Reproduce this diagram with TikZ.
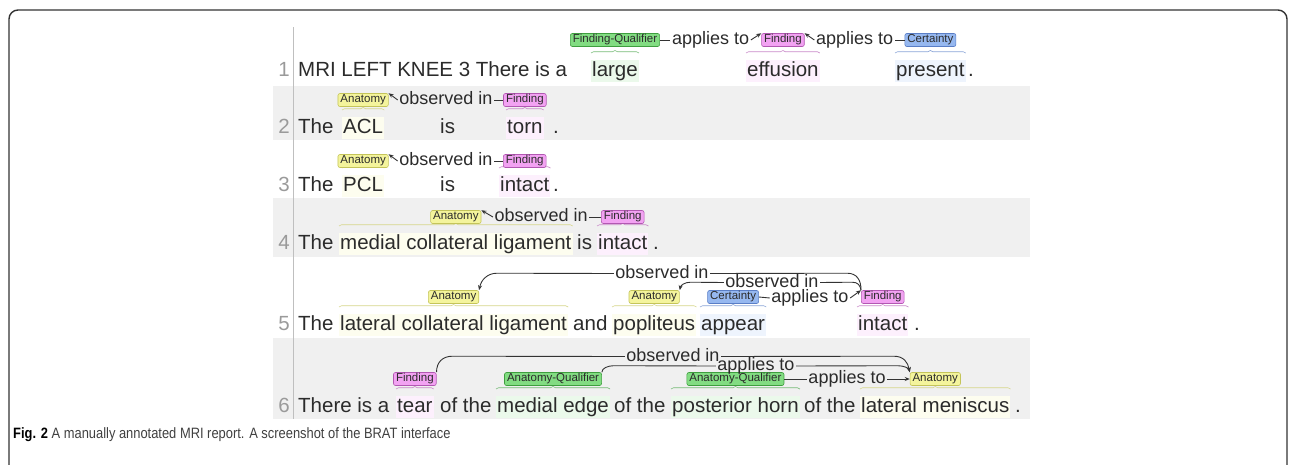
\documentclass[tikz,border=0pt]{standalone}
\usepackage{fontspec}
\setmainfont{Liberation Sans}
\usepackage{xcolor}
\usetikzlibrary{arrows.meta,calc,decorations.pathreplacing}
\definecolor{anaF}{HTML}{F4F49C}\definecolor{anaD}{HTML}{C4C45A}
\definecolor{fndF}{HTML}{F2A2F2}\definecolor{fndD}{HTML}{B258B2}
\definecolor{quaF}{HTML}{82DC82}\definecolor{quaD}{HTML}{3E9E3E}
\definecolor{cerF}{HTML}{96B8F0}\definecolor{cerD}{HTML}{5A7EC6}
\definecolor{band}{HTML}{F0F0F0}
\definecolor{txt}{HTML}{2B2B2B}
\definecolor{numc}{HTML}{9A9A9A}
\newcommand{\wsize}{\fontsize{20.5}{24}\selectfont}
\newcommand{\lsize}{\fontsize{11.5}{13}\selectfont}
\newcommand{\rsize}{\fontsize{18}{21}\selectfont}
\newcommand{\csize}{\fontsize{15}{18}\selectfont}

\begin{document}
\begin{tikzpicture}[x=1pt,y=-1pt,
	wd/.style={anchor=base west,inner xsep=1pt,inner ysep=1pt,text height=15pt,text depth=5pt,font=\wsize,text=txt},
	sp/.style={wd,fill=#1F!16},
	num/.style={anchor=base east,inner sep=0pt,font=\wsize,text=numc},
	lab/.style={draw=#1D,fill=#1F,rounded corners=2pt,font=\lsize,text=txt,inner xsep=2.5pt,inner ysep=0pt,minimum height=13pt,line width=.6pt},
	rel/.style={font=\rsize,text=txt,inner xsep=1.5pt,inner ysep=0pt,text height=13pt,text depth=4pt},
	brc/.style={draw=#1D!70,line width=.6pt,decorate,decoration={brace,amplitude=2.5pt}},
	arc/.style={draw=black!80,line width=.9pt},
	tip/.style={arc,-{Stealth[length=5pt,width=4pt]}}]
	\useasboundingbox (0,0) rectangle (1296,464);
	\draw[black!80,line width=1.4pt,rounded corners=9pt] (9,10) rectangle (1287,480);
	% rows
	\foreach \t/\b in {86/140,198/257,338/419} \fill[band] (273,\t) rectangle (1030,\b);
	\draw[black!25,line width=1pt] (293,27) -- (293,419);
	\foreach \i/\b in {1/76,2/133,3/191,4/249,5/330,6/412} \node[num] (n\i) at (290,\b) {\i};
	% words
	\node[wd] (w11) at (297,76) {MRI LEFT KNEE 3 There is a};
	\node[sp=qua] (w12) at (591,76) {large};
	\node[sp=fnd] (w13) at (746,76) {effusion};
	\node[sp=cer] (w14) at (895,76) {present};
	\node[wd] (w15) at (967,76) {.};
	\node[wd] (w21) at (297,133) {The};
	\node[sp=ana] (w22) at (342,133) {ACL};
	\node[wd] (w23) at (439,133) {is};
	\node[sp=fnd] (w24) at (506,133) {torn};
	\node[wd] (w25) at (552,133) {.};
	\node[wd] (w31) at (297,191) {The};
	\node[sp=ana] (w32) at (342,191) {PCL};
	\node[wd] (w33) at (439,191) {is};
	\node[sp=fnd] (w34) at (499,191) {intact};
	\node[wd] (w35) at (552,191) {.};
	\node[wd] (w41) at (297,249) {The};
	\node[sp=ana] (w42) at (339,249) {medial collateral ligament};
	\node[wd] (w43) at (576,249) {is};
	\node[sp=fnd] (w44) at (597,249) {intact};
	\node[wd] (w45) at (652,249) {.};
	\node[wd] (w51) at (297,330) {The};
	\node[sp=ana] (w52) at (339,330) {lateral collateral ligament};
	\node[wd] (w53) at (572,330) {and};
	\node[sp=ana] (w54) at (612,330) {popliteus};
	\node[sp=cer] (w55) at (700,330) {appear};
	\node[sp=fnd] (w56) at (857,330) {intact};
	\node[wd] (w57) at (913,330) {.};
	\node[wd] (w61) at (297,412) {There is a};
	\node[sp=fnd] (w62) at (396,412) {tear};
	\node[wd] (w63) at (439,412) {of the};
	\node[sp=qua] (w64) at (496,412) {medial edge};
	\node[wd] (w65) at (613,412) {of the};
	\node[sp=qua] (w66) at (671,412) {posterior horn};
	\node[wd] (w67) at (803,412) {of the};
	\node[sp=ana] (w68) at (860,412) {lateral meniscus};
	\node[wd] (w69) at (1014,412) {.};
	% braces
	\foreach \w in {w12,w64,w66} \draw[brc=qua] ([yshift=23pt]\w.base west) -- ([yshift=23pt]\w.base east);
	\foreach \w in {w13,w24,w34,w44,w56,w62} \draw[brc=fnd] ([yshift=23pt]\w.base west) -- ([yshift=23pt]\w.base east);
	\foreach \w in {w14,w55} \draw[brc=cer] ([yshift=23pt]\w.base west) -- ([yshift=23pt]\w.base east);
	\foreach \w in {w22,w32,w42,w52,w54,w68} \draw[brc=ana] ([yshift=23pt]\w.base west) -- ([yshift=23pt]\w.base east);
	% labels
	\node[lab=qua] (fq1) at (w12.base |- 0,40) {Finding-Qualifier};
	\node[lab=fnd] (fd1) at (w13.base |- 0,40) {Finding};
	\node[lab=cer] (ce1) at (w14.base |- 0,40) {Certainty};
	\node[lab=ana] (an2) at (w22.base |- 0,100) {Anatomy};
	\node[lab=fnd] (fd2) at (w24.base |- 0,100) {Finding};
	\node[lab=ana] (an3) at (w32.base |- 0,161) {Anatomy};
	\node[lab=fnd] (fd3) at (w34.base |- 0,161) {Finding};
	\node[lab=ana] (an4) at (w42.base |- 0,217) {Anatomy};
	\node[lab=fnd] (fd4) at (w44.base |- 0,217) {Finding};
	\node[lab=ana] (an51) at (w52.base |- 0,297) {Anatomy};
	\node[lab=ana] (an52) at (w54.base |- 0,297) {Anatomy};
	\node[lab=cer] (ce5) at (w55.base |- 0,297) {Certainty};
	\node[lab=fnd] (fd5) at (w56.base |- 0,297) {Finding};
	\node[lab=fnd] (fd6) at (w62.base |- 0,379) {Finding};
	\node[lab=qua] (aq61) at (w64.base |- 0,379) {Anatomy-Qualifier};
	\node[lab=qua] (aq62) at (w66.base |- 0,379) {Anatomy-Qualifier};
	\node[lab=ana] (an6) at (w68.base |- 0,379) {Anatomy};
	% relations
	\node[rel] (at1) at ($(fq1.east)!.5!(fd1.west)$) {applies to};
	\node[rel] (at2) at ($(fd1.east)!.5!(ce1.west)$) {applies to};
	\node[rel] (ob2) at ($(an2.east)!.5!(fd2.west)$) {observed in};
	\node[rel] (ob3) at ($(an3.east)!.5!(fd3.west)$) {observed in};
	\node[rel] (ob4) at ($(an4.east)!.5!(fd4.west)$) {observed in};
	\node[rel] (ob51) at (662,273.5) {observed in};
	\node[rel] (ob52) at (772,282.5) {observed in};
	\node[rel] (at5) at ($(ce5.east)!.5!(fd5.west)+(0,1)$) {applies to};
	\node[rel] (ob6) at (673,356.5) {observed in};
	\node[rel] (at61) at (756,366) {applies to};
	\node[rel] (at62) at ($(aq62.east)!.5!(an6.west)$) {applies to};
	\draw[arc] (fq1.east) -- (at1.west);
	\draw[tip] (at1.east) -- (fd1.north west);
	\draw[arc] (ce1.west) -- (at2.east);
	\draw[tip] (at2.west) -- (fd1.north east);
	\draw[arc] (fd2.west) -- (ob2.east);
	\draw[tip] (ob2.west) -- (an2.north east);
	\draw[arc] (fd3.west) -- (ob3.east);
	\draw[tip] (ob3.west) -- (an3.north east);
	\draw[arc] (fd4.west) -- (ob4.east);
	\draw[tip] (ob4.west) -- (an4.north east);
	\draw[arc] (fd5.north west) .. controls +(0,-10) and +(10,0) .. ([shift={(-14,-17)}]fd5.north west) -- (ob51.east);
	\draw[tip] (ob51.west) -- ([shift={(18,-17)}]an51.north east) .. controls +(-10,0) and +(2,-10) .. (an51.north east);
	\draw[arc] (fd5.north west) .. controls +(-1,-5) and +(6,0) .. ([shift={(-9,-8)}]fd5.north west) -- (ob52.east);
	\draw[tip] (ob52.west) -- ([shift={(11,-8)}]an52.north east) .. controls +(-6,0) and +(1,-5) .. (an52.north east);
	\draw[arc] (ce5.east) -- (at5.west);
	\draw[tip] (at5.east) -- (fd5.north west);
	\draw[arc] (fd6.north east) .. controls +(0,-10) and +(-10,0) .. ([shift={(16,-16)}]fd6.north east) -- (ob6.west);
	\draw[tip] (ob6.east) -- ([shift={(-16,-16)}]an6.north west) .. controls +(10,0) and +(-2,-10) .. (an6.north west);
	\draw[arc] (aq61.north east) .. controls +(0,-4) and +(-6,0) .. ([shift={(12,-6.5)}]aq61.north east) -- (at61.west);
	\draw[tip] (at61.east) -- ([shift={(-12,-6.5)}]an6.north west) .. controls +(6,0) and +(-1,-4) .. (an6.north west);
	\draw[arc] (aq62.east) -- (at62.west);
	\draw[tip] (at62.east) -- (an6.west);
	% caption
	\node[anchor=base west,inner sep=0pt,font=\csize,text=black!75] (cap) at (13,438)
		{\scalebox{0.86}[1]{\textbf{\color{black}Fig. 2} A manually annotated MRI report. A screenshot of the BRAT interface}};
\end{tikzpicture}
\end{document}
